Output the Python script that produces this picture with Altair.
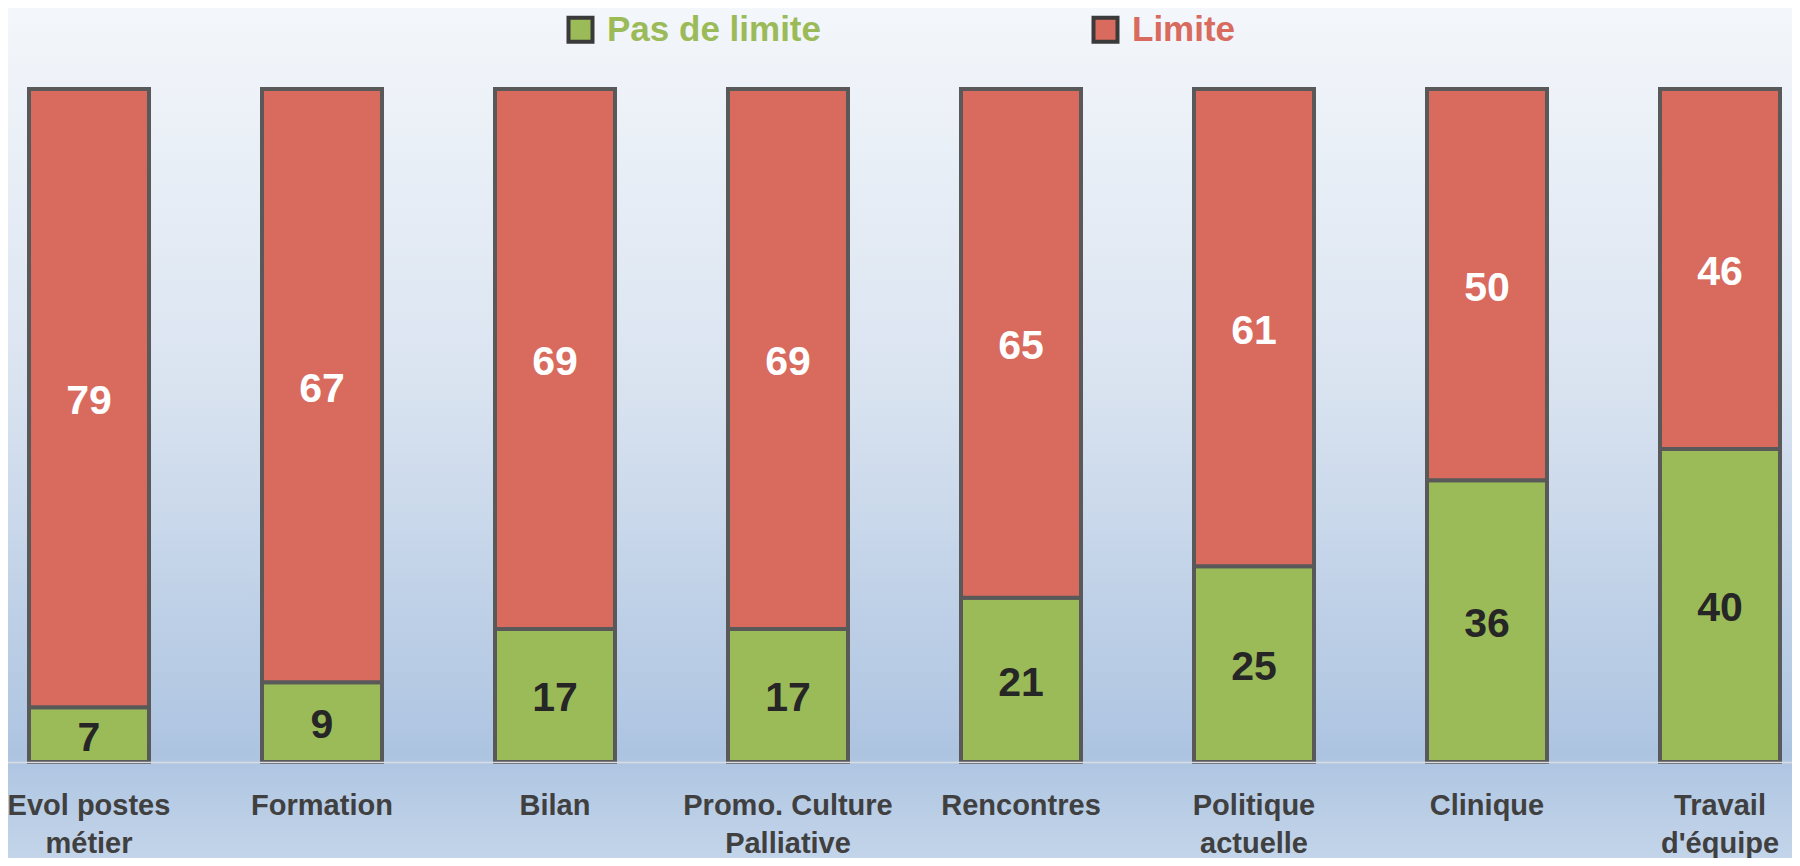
import altair as alt
import pandas as pd

categories = ["Evol postes\nmétier", "Formation", "Bilan", "Promo. Culture\nPalliative",
              "Rencontres", "Politique\nactuelle", "Clinique", "Travail\nd'équipe"]
pas_de_limite = [7, 9, 17, 17, 21, 25, 36, 40]
limite = [79, 67, 69, 69, 65, 61, 50, 46]
series = ["Pas de limite", "Limite"]
colors = ["#9bbb59", "#d86a5e"]

rows = []
for c, p, l in zip(categories, pas_de_limite, limite):
    rows.append({"categorie": c, "serie": series[0], "ordre": 0, "valeur": p})
    rows.append({"categorie": c, "serie": series[1], "ordre": 1, "valeur": l})
df = pd.DataFrame(rows)

FONT = "Liberation Sans"

bg = alt.Chart(alt.Data(values=[{}])).mark_rect(
    fill=alt.Gradient(
        gradient="linear", x1=0, x2=0, y1=0, y2=1,
        stops=[
            alt.GradientStop(offset=0, color="#f4f7fb"),
            alt.GradientStop(offset=0.45, color="#d9e3f0"),
            alt.GradientStop(offset=0.87, color="#adc4e1"),
            alt.GradientStop(offset=1, color="#c5d6ea"),
        ],
    )
).encode(x=alt.value(-8), x2=alt.value(1792), y=alt.value(-89), y2=alt.value(777))

base = alt.Chart(df).transform_stack(
    stack="valeur", groupby=["categorie"], as_=["v0", "v1"], offset="normalize",
    sort=[alt.SortField("ordre", order="ascending")],
).transform_calculate(mid="(datum.v0 + datum.v1) / 2")

xenc = alt.X(
    "categorie:N", sort=categories, title=None,
    scale=alt.Scale(range=[-35.5, 1828.5], paddingInner=0.485, paddingOuter=0.2425),
    axis=alt.Axis(
        labelExpr="split(datum.label, '\\n')", labelAngle=0, ticks=False,
        labelFont=FONT, labelFontSize=29, labelFontWeight="bold", labelColor="#404040",
        labelLineHeight=38, labelPadding=29, labelLimit=400,
        domainColor="#d9dde3", domainWidth=1.5, grid=False, zindex=1,
    ),
)

bars = base.mark_bar(stroke="#595959", strokeWidth=4).encode(
    x=xenc,
    y=alt.Y("v0:Q", scale=alt.Scale(domain=[0, 1]), axis=None),
    y2="v1:Q",
    color=alt.Color(
        "serie:N", scale=alt.Scale(domain=series, range=colors),
        legend=alt.Legend(
            title=None, orient="none", legendX=555, legendY=-77, direction="horizontal",
            columns=2, columnPadding=264, padding=0,
            symbolType="square", symbolSize=576, symbolStrokeColor="#3a3a3a",
            symbolStrokeWidth=4,
            labelFont=FONT, labelFontSize=35, labelFontWeight="bold",
            labelOffset=9, labelLimit=400,
            labelColor=alt.ExprRef("datum.value == 'Limite' ? '#d86a5e' : '#9bbb59'"),
        ),
    ),
)

texts = base.mark_text(font=FONT, fontSize=41, fontWeight="bold", baseline="middle",
                       align="center", dy=4).encode(
    x=alt.X("categorie:N", sort=categories),
    y=alt.Y("mid:Q"),
    text=alt.Text("valeur:Q"),
    fill=alt.condition(alt.datum.serie == "Limite", alt.value("#ffffff"), alt.value("#262626")),
)

chart = alt.layer(bg, bars, texts).properties(
    width=1784, height=673,
    autosize=alt.AutoSizeParams(type="none"),
    padding={"left": 0, "top": 81, "right": 0, "bottom": 96},
    background="#f4f7fb",
).configure_view(stroke=None)

chart.save("out.html", embed_options={"renderer": "svg", "actions": False})
